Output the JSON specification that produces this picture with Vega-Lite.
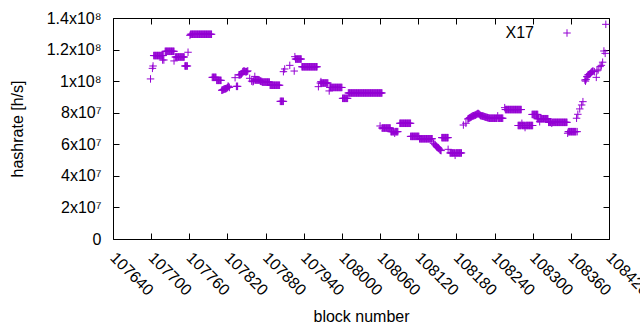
{
  "$schema": "https://vega.github.io/schema/vega-lite/v6.json",
  "width": 496,
  "height": 221,
  "autosize": {"type": "none"},
  "padding": {"left": 113, "top": 18, "right": 31, "bottom": 91},
  "background": "white",
  "config": {
    "view": {"stroke": "black", "strokeWidth": 1},
    "font": "Liberation Sans",
    "axis": {
      "grid": false,
      "domain": false,
      "tickColor": "black",
      "tickSize": -6,
      "labelColor": "black",
      "titleColor": "black",
      "labelFont": "Liberation Sans",
      "titleFont": "Liberation Sans",
      "labelFontSize": 16,
      "titleFontSize": 16,
      "titleFontWeight": "normal",
      "labelOverlap": false,
      "labelBound": false,
      "labelFlush": false
    }
  },
  "datasets": {
    "hash": [
      {"block": 107699, "hashrate": 1.014e8},
      {"block": 107702, "hashrate": 1.081e8},
      {"block": 107703, "hashrate": 1.096e8},
      {"block": 107704, "hashrate": 1.162e8},
      {"block": 107705, "hashrate": 1.162e8},
      {"block": 107706, "hashrate": 1.162e8},
      {"block": 107707, "hashrate": 1.162e8},
      {"block": 107708, "hashrate": 1.162e8},
      {"block": 107709, "hashrate": 1.162e8},
      {"block": 107710, "hashrate": 1.162e8},
      {"block": 107711, "hashrate": 1.162e8},
      {"block": 107712, "hashrate": 1.162e8},
      {"block": 107713, "hashrate": 1.162e8},
      {"block": 107714, "hashrate": 1.162e8},
      {"block": 107715, "hashrate": 1.162e8},
      {"block": 107716, "hashrate": 1.162e8},
      {"block": 107717, "hashrate": 1.162e8},
      {"block": 107718, "hashrate": 1.162e8},
      {"block": 107719, "hashrate": 1.162e8},
      {"block": 107718, "hashrate": 1.134e8},
      {"block": 107720, "hashrate": 1.134e8},
      {"block": 107722, "hashrate": 1.189e8},
      {"block": 107723, "hashrate": 1.189e8},
      {"block": 107724, "hashrate": 1.189e8},
      {"block": 107725, "hashrate": 1.189e8},
      {"block": 107726, "hashrate": 1.189e8},
      {"block": 107727, "hashrate": 1.189e8},
      {"block": 107728, "hashrate": 1.189e8},
      {"block": 107729, "hashrate": 1.189e8},
      {"block": 107730, "hashrate": 1.189e8},
      {"block": 107731, "hashrate": 1.189e8},
      {"block": 107732, "hashrate": 1.189e8},
      {"block": 107733, "hashrate": 1.189e8},
      {"block": 107734, "hashrate": 1.189e8},
      {"block": 107735, "hashrate": 1.189e8},
      {"block": 107736, "hashrate": 1.189e8},
      {"block": 107736, "hashrate": 1.128e8},
      {"block": 107738, "hashrate": 1.153e8},
      {"block": 107739, "hashrate": 1.153e8},
      {"block": 107740, "hashrate": 1.153e8},
      {"block": 107741, "hashrate": 1.153e8},
      {"block": 107742, "hashrate": 1.153e8},
      {"block": 107743, "hashrate": 1.153e8},
      {"block": 107744, "hashrate": 1.153e8},
      {"block": 107745, "hashrate": 1.153e8},
      {"block": 107746, "hashrate": 1.153e8},
      {"block": 107747, "hashrate": 1.153e8},
      {"block": 107748, "hashrate": 1.153e8},
      {"block": 107749, "hashrate": 1.153e8},
      {"block": 107750, "hashrate": 1.153e8},
      {"block": 107751, "hashrate": 1.153e8},
      {"block": 107752, "hashrate": 1.153e8},
      {"block": 107753, "hashrate": 1.096e8},
      {"block": 107754, "hashrate": 1.096e8},
      {"block": 107755, "hashrate": 1.096e8},
      {"block": 107756, "hashrate": 1.096e8},
      {"block": 107757, "hashrate": 1.096e8},
      {"block": 107758, "hashrate": 1.183e8},
      {"block": 107761, "hashrate": 1.29e8},
      {"block": 107762, "hashrate": 1.297e8},
      {"block": 107763, "hashrate": 1.297e8},
      {"block": 107764, "hashrate": 1.297e8},
      {"block": 107765, "hashrate": 1.297e8},
      {"block": 107766, "hashrate": 1.297e8},
      {"block": 107767, "hashrate": 1.297e8},
      {"block": 107768, "hashrate": 1.297e8},
      {"block": 107769, "hashrate": 1.297e8},
      {"block": 107770, "hashrate": 1.297e8},
      {"block": 107771, "hashrate": 1.297e8},
      {"block": 107772, "hashrate": 1.297e8},
      {"block": 107773, "hashrate": 1.297e8},
      {"block": 107774, "hashrate": 1.297e8},
      {"block": 107775, "hashrate": 1.297e8},
      {"block": 107776, "hashrate": 1.297e8},
      {"block": 107777, "hashrate": 1.297e8},
      {"block": 107778, "hashrate": 1.297e8},
      {"block": 107779, "hashrate": 1.297e8},
      {"block": 107780, "hashrate": 1.297e8},
      {"block": 107781, "hashrate": 1.297e8},
      {"block": 107782, "hashrate": 1.297e8},
      {"block": 107783, "hashrate": 1.297e8},
      {"block": 107784, "hashrate": 1.297e8},
      {"block": 107785, "hashrate": 1.297e8},
      {"block": 107786, "hashrate": 1.297e8},
      {"block": 107787, "hashrate": 1.297e8},
      {"block": 107788, "hashrate": 1.297e8},
      {"block": 107789, "hashrate": 1.297e8},
      {"block": 107790, "hashrate": 1.297e8},
      {"block": 107791, "hashrate": 1.297e8},
      {"block": 107792, "hashrate": 1.297e8},
      {"block": 107793, "hashrate": 1.297e8},
      {"block": 107794, "hashrate": 1.297e8},
      {"block": 107795, "hashrate": 1.297e8},
      {"block": 107796, "hashrate": 1.024e8},
      {"block": 107797, "hashrate": 1.024e8},
      {"block": 107798, "hashrate": 1.024e8},
      {"block": 107799, "hashrate": 1.024e8},
      {"block": 107800, "hashrate": 1.024e8},
      {"block": 107801, "hashrate": 1.024e8},
      {"block": 107802, "hashrate": 1.024e8},
      {"block": 107803, "hashrate": 1.005e8},
      {"block": 107804, "hashrate": 1.005e8},
      {"block": 107805, "hashrate": 1.005e8},
      {"block": 107806, "hashrate": 1.005e8},
      {"block": 107807, "hashrate": 1.005e8},
      {"block": 107808, "hashrate": 1.005e8},
      {"block": 107809, "hashrate": 1.005e8},
      {"block": 107810, "hashrate": 1.005e8},
      {"block": 107811, "hashrate": 9.42e7},
      {"block": 107812, "hashrate": 9.44e7},
      {"block": 107813, "hashrate": 9.45e7},
      {"block": 107814, "hashrate": 9.48e7},
      {"block": 107815, "hashrate": 9.5e7},
      {"block": 107816, "hashrate": 9.5e7},
      {"block": 107817, "hashrate": 9.52e7},
      {"block": 107818, "hashrate": 9.53e7},
      {"block": 107819, "hashrate": 9.55e7},
      {"block": 107820, "hashrate": 9.6e7},
      {"block": 107821, "hashrate": 9.69e7},
      {"block": 107822, "hashrate": 9.65e7},
      {"block": 107823, "hashrate": 9.6e7},
      {"block": 107832, "hashrate": 1.022e8},
      {"block": 107834, "hashrate": 9.67e7},
      {"block": 107835, "hashrate": 9.67e7},
      {"block": 107836, "hashrate": 9.67e7},
      {"block": 107838, "hashrate": 1.04e8},
      {"block": 107839, "hashrate": 1.04e8},
      {"block": 107840, "hashrate": 1.04e8},
      {"block": 107841, "hashrate": 1.042e8},
      {"block": 107842, "hashrate": 1.045e8},
      {"block": 107843, "hashrate": 1.05e8},
      {"block": 107844, "hashrate": 1.06e8},
      {"block": 107845, "hashrate": 1.062e8},
      {"block": 107846, "hashrate": 1.065e8},
      {"block": 107847, "hashrate": 1.062e8},
      {"block": 107848, "hashrate": 1.06e8},
      {"block": 107849, "hashrate": 1.06e8},
      {"block": 107850, "hashrate": 1.06e8},
      {"block": 107851, "hashrate": 1.062e8},
      {"block": 107852, "hashrate": 1.065e8},
      {"block": 107855, "hashrate": 1.018e8},
      {"block": 107858, "hashrate": 1.0e8},
      {"block": 107860, "hashrate": 9.96e7},
      {"block": 107861, "hashrate": 1.0e8},
      {"block": 107862, "hashrate": 1.007e8},
      {"block": 107863, "hashrate": 1.03e8},
      {"block": 107864, "hashrate": 1.007e8},
      {"block": 107865, "hashrate": 1.007e8},
      {"block": 107866, "hashrate": 1.007e8},
      {"block": 107867, "hashrate": 1.007e8},
      {"block": 107868, "hashrate": 1.007e8},
      {"block": 107869, "hashrate": 1.007e8},
      {"block": 107870, "hashrate": 1.007e8},
      {"block": 107871, "hashrate": 1.003e8},
      {"block": 107872, "hashrate": 1.0e8},
      {"block": 107873, "hashrate": 9.98e7},
      {"block": 107874, "hashrate": 9.98e7},
      {"block": 107875, "hashrate": 9.94e7},
      {"block": 107876, "hashrate": 9.94e7},
      {"block": 107877, "hashrate": 9.94e7},
      {"block": 107878, "hashrate": 9.94e7},
      {"block": 107879, "hashrate": 9.94e7},
      {"block": 107880, "hashrate": 9.94e7},
      {"block": 107881, "hashrate": 9.94e7},
      {"block": 107882, "hashrate": 9.94e7},
      {"block": 107883, "hashrate": 9.94e7},
      {"block": 107884, "hashrate": 9.94e7},
      {"block": 107885, "hashrate": 9.94e7},
      {"block": 107886, "hashrate": 9.94e7},
      {"block": 107887, "hashrate": 9.74e7},
      {"block": 107888, "hashrate": 9.74e7},
      {"block": 107889, "hashrate": 9.74e7},
      {"block": 107890, "hashrate": 9.74e7},
      {"block": 107891, "hashrate": 9.74e7},
      {"block": 107892, "hashrate": 9.74e7},
      {"block": 107893, "hashrate": 9.74e7},
      {"block": 107894, "hashrate": 9.74e7},
      {"block": 107895, "hashrate": 9.74e7},
      {"block": 107896, "hashrate": 9.74e7},
      {"block": 107897, "hashrate": 9.74e7},
      {"block": 107898, "hashrate": 9.74e7},
      {"block": 107899, "hashrate": 9.74e7},
      {"block": 107900, "hashrate": 9.74e7},
      {"block": 107901, "hashrate": 9.74e7},
      {"block": 107902, "hashrate": 9.74e7},
      {"block": 107903, "hashrate": 8.72e7},
      {"block": 107904, "hashrate": 8.72e7},
      {"block": 107905, "hashrate": 8.72e7},
      {"block": 107906, "hashrate": 8.72e7},
      {"block": 107907, "hashrate": 8.72e7},
      {"block": 107908, "hashrate": 8.72e7},
      {"block": 107908, "hashrate": 1.06e8},
      {"block": 107910, "hashrate": 1.077e8},
      {"block": 107918, "hashrate": 1.10e8},
      {"block": 107925, "hashrate": 1.064e8},
      {"block": 107926, "hashrate": 1.155e8},
      {"block": 107927, "hashrate": 1.14e8},
      {"block": 107928, "hashrate": 1.14e8},
      {"block": 107929, "hashrate": 1.14e8},
      {"block": 107930, "hashrate": 1.14e8},
      {"block": 107931, "hashrate": 1.14e8},
      {"block": 107932, "hashrate": 1.14e8},
      {"block": 107933, "hashrate": 1.14e8},
      {"block": 107934, "hashrate": 1.14e8},
      {"block": 107935, "hashrate": 1.14e8},
      {"block": 107936, "hashrate": 1.14e8},
      {"block": 107937, "hashrate": 1.091e8},
      {"block": 107938, "hashrate": 1.091e8},
      {"block": 107939, "hashrate": 1.091e8},
      {"block": 107940, "hashrate": 1.091e8},
      {"block": 107941, "hashrate": 1.091e8},
      {"block": 107942, "hashrate": 1.091e8},
      {"block": 107943, "hashrate": 1.091e8},
      {"block": 107944, "hashrate": 1.091e8},
      {"block": 107945, "hashrate": 1.091e8},
      {"block": 107946, "hashrate": 1.091e8},
      {"block": 107947, "hashrate": 1.091e8},
      {"block": 107948, "hashrate": 1.091e8},
      {"block": 107949, "hashrate": 1.091e8},
      {"block": 107950, "hashrate": 1.091e8},
      {"block": 107951, "hashrate": 1.091e8},
      {"block": 107952, "hashrate": 1.091e8},
      {"block": 107953, "hashrate": 1.091e8},
      {"block": 107954, "hashrate": 1.091e8},
      {"block": 107955, "hashrate": 1.091e8},
      {"block": 107956, "hashrate": 1.091e8},
      {"block": 107957, "hashrate": 1.091e8},
      {"block": 107958, "hashrate": 1.091e8},
      {"block": 107959, "hashrate": 1.091e8},
      {"block": 107960, "hashrate": 1.091e8},
      {"block": 107961, "hashrate": 1.091e8},
      {"block": 107963, "hashrate": 9.65e7},
      {"block": 107966, "hashrate": 9.88e7},
      {"block": 107967, "hashrate": 9.97e7},
      {"block": 107968, "hashrate": 9.88e7},
      {"block": 107969, "hashrate": 9.88e7},
      {"block": 107970, "hashrate": 9.88e7},
      {"block": 107971, "hashrate": 9.88e7},
      {"block": 107972, "hashrate": 9.88e7},
      {"block": 107973, "hashrate": 9.88e7},
      {"block": 107974, "hashrate": 9.88e7},
      {"block": 107975, "hashrate": 9.88e7},
      {"block": 107976, "hashrate": 9.88e7},
      {"block": 107977, "hashrate": 9.88e7},
      {"block": 107978, "hashrate": 9.88e7},
      {"block": 107980, "hashrate": 9.38e7},
      {"block": 107981, "hashrate": 9.6e7},
      {"block": 107982, "hashrate": 9.6e7},
      {"block": 107983, "hashrate": 9.6e7},
      {"block": 107984, "hashrate": 9.6e7},
      {"block": 107985, "hashrate": 9.6e7},
      {"block": 107986, "hashrate": 9.6e7},
      {"block": 107987, "hashrate": 9.6e7},
      {"block": 107988, "hashrate": 9.6e7},
      {"block": 107989, "hashrate": 9.6e7},
      {"block": 107990, "hashrate": 9.6e7},
      {"block": 107991, "hashrate": 9.6e7},
      {"block": 107992, "hashrate": 9.6e7},
      {"block": 107993, "hashrate": 9.6e7},
      {"block": 107994, "hashrate": 9.6e7},
      {"block": 107995, "hashrate": 9.6e7},
      {"block": 107996, "hashrate": 9.6e7},
      {"block": 107997, "hashrate": 9.6e7},
      {"block": 107998, "hashrate": 9.6e7},
      {"block": 107999, "hashrate": 9.6e7},
      {"block": 108000, "hashrate": 9.6e7},
      {"block": 108001, "hashrate": 8.91e7},
      {"block": 108002, "hashrate": 8.91e7},
      {"block": 108003, "hashrate": 8.91e7},
      {"block": 108004, "hashrate": 8.91e7},
      {"block": 108005, "hashrate": 8.91e7},
      {"block": 108006, "hashrate": 8.91e7},
      {"block": 108007, "hashrate": 8.91e7},
      {"block": 108008, "hashrate": 8.91e7},
      {"block": 108009, "hashrate": 8.91e7},
      {"block": 108010, "hashrate": 9.25e7},
      {"block": 108011, "hashrate": 9.25e7},
      {"block": 108012, "hashrate": 9.25e7},
      {"block": 108013, "hashrate": 9.25e7},
      {"block": 108014, "hashrate": 9.25e7},
      {"block": 108015, "hashrate": 9.25e7},
      {"block": 108016, "hashrate": 9.25e7},
      {"block": 108017, "hashrate": 9.25e7},
      {"block": 108018, "hashrate": 9.25e7},
      {"block": 108019, "hashrate": 9.25e7},
      {"block": 108020, "hashrate": 9.25e7},
      {"block": 108021, "hashrate": 9.25e7},
      {"block": 108022, "hashrate": 9.25e7},
      {"block": 108023, "hashrate": 9.25e7},
      {"block": 108024, "hashrate": 9.25e7},
      {"block": 108025, "hashrate": 9.25e7},
      {"block": 108026, "hashrate": 9.25e7},
      {"block": 108027, "hashrate": 9.25e7},
      {"block": 108028, "hashrate": 9.25e7},
      {"block": 108029, "hashrate": 9.25e7},
      {"block": 108030, "hashrate": 9.25e7},
      {"block": 108031, "hashrate": 9.25e7},
      {"block": 108032, "hashrate": 9.25e7},
      {"block": 108033, "hashrate": 9.25e7},
      {"block": 108034, "hashrate": 9.25e7},
      {"block": 108035, "hashrate": 9.25e7},
      {"block": 108036, "hashrate": 9.25e7},
      {"block": 108037, "hashrate": 9.25e7},
      {"block": 108038, "hashrate": 9.25e7},
      {"block": 108039, "hashrate": 9.25e7},
      {"block": 108040, "hashrate": 9.25e7},
      {"block": 108041, "hashrate": 9.25e7},
      {"block": 108042, "hashrate": 9.25e7},
      {"block": 108043, "hashrate": 9.25e7},
      {"block": 108044, "hashrate": 9.25e7},
      {"block": 108045, "hashrate": 9.25e7},
      {"block": 108046, "hashrate": 9.25e7},
      {"block": 108047, "hashrate": 9.25e7},
      {"block": 108048, "hashrate": 9.25e7},
      {"block": 108049, "hashrate": 9.25e7},
      {"block": 108050, "hashrate": 9.25e7},
      {"block": 108051, "hashrate": 9.25e7},
      {"block": 108052, "hashrate": 9.25e7},
      {"block": 108053, "hashrate": 9.25e7},
      {"block": 108054, "hashrate": 9.25e7},
      {"block": 108055, "hashrate": 9.25e7},
      {"block": 108056, "hashrate": 9.25e7},
      {"block": 108057, "hashrate": 9.25e7},
      {"block": 108058, "hashrate": 9.25e7},
      {"block": 108059, "hashrate": 9.25e7},
      {"block": 108060, "hashrate": 9.25e7},
      {"block": 108061, "hashrate": 9.25e7},
      {"block": 108062, "hashrate": 9.25e7},
      {"block": 108063, "hashrate": 9.25e7},
      {"block": 108060, "hashrate": 7.16e7},
      {"block": 108063, "hashrate": 7.03e7},
      {"block": 108064, "hashrate": 7.03e7},
      {"block": 108065, "hashrate": 7.03e7},
      {"block": 108066, "hashrate": 7.03e7},
      {"block": 108067, "hashrate": 7.03e7},
      {"block": 108068, "hashrate": 7.03e7},
      {"block": 108069, "hashrate": 7.03e7},
      {"block": 108070, "hashrate": 7.03e7},
      {"block": 108071, "hashrate": 7.03e7},
      {"block": 108072, "hashrate": 7.03e7},
      {"block": 108073, "hashrate": 7.03e7},
      {"block": 108074, "hashrate": 7.03e7},
      {"block": 108075, "hashrate": 7.03e7},
      {"block": 108076, "hashrate": 7.03e7},
      {"block": 108077, "hashrate": 6.8e7},
      {"block": 108078, "hashrate": 6.8e7},
      {"block": 108079, "hashrate": 6.8e7},
      {"block": 108080, "hashrate": 6.8e7},
      {"block": 108081, "hashrate": 6.8e7},
      {"block": 108082, "hashrate": 6.8e7},
      {"block": 108083, "hashrate": 6.7e7},
      {"block": 108084, "hashrate": 6.8e7},
      {"block": 108085, "hashrate": 6.8e7},
      {"block": 108086, "hashrate": 6.8e7},
      {"block": 108087, "hashrate": 6.8e7},
      {"block": 108088, "hashrate": 6.8e7},
      {"block": 108091, "hashrate": 7.33e7},
      {"block": 108092, "hashrate": 7.33e7},
      {"block": 108093, "hashrate": 7.33e7},
      {"block": 108094, "hashrate": 7.33e7},
      {"block": 108095, "hashrate": 7.33e7},
      {"block": 108096, "hashrate": 7.33e7},
      {"block": 108097, "hashrate": 7.33e7},
      {"block": 108098, "hashrate": 7.33e7},
      {"block": 108099, "hashrate": 7.33e7},
      {"block": 108100, "hashrate": 7.33e7},
      {"block": 108101, "hashrate": 7.33e7},
      {"block": 108102, "hashrate": 7.33e7},
      {"block": 108103, "hashrate": 7.33e7},
      {"block": 108104, "hashrate": 7.33e7},
      {"block": 108105, "hashrate": 7.33e7},
      {"block": 108106, "hashrate": 7.33e7},
      {"block": 108107, "hashrate": 7.33e7},
      {"block": 108108, "hashrate": 7.33e7},
      {"block": 108108, "hashrate": 6.5e7},
      {"block": 108109, "hashrate": 6.5e7},
      {"block": 108110, "hashrate": 6.5e7},
      {"block": 108111, "hashrate": 6.5e7},
      {"block": 108112, "hashrate": 6.5e7},
      {"block": 108113, "hashrate": 6.5e7},
      {"block": 108114, "hashrate": 6.5e7},
      {"block": 108115, "hashrate": 6.5e7},
      {"block": 108116, "hashrate": 6.5e7},
      {"block": 108117, "hashrate": 6.5e7},
      {"block": 108118, "hashrate": 6.5e7},
      {"block": 108119, "hashrate": 6.5e7},
      {"block": 108120, "hashrate": 6.5e7},
      {"block": 108121, "hashrate": 6.5e7},
      {"block": 108122, "hashrate": 6.35e7},
      {"block": 108123, "hashrate": 6.35e7},
      {"block": 108124, "hashrate": 6.35e7},
      {"block": 108125, "hashrate": 6.35e7},
      {"block": 108126, "hashrate": 6.35e7},
      {"block": 108127, "hashrate": 6.35e7},
      {"block": 108128, "hashrate": 6.35e7},
      {"block": 108129, "hashrate": 6.35e7},
      {"block": 108130, "hashrate": 6.35e7},
      {"block": 108131, "hashrate": 6.35e7},
      {"block": 108132, "hashrate": 6.35e7},
      {"block": 108133, "hashrate": 6.35e7},
      {"block": 108134, "hashrate": 6.35e7},
      {"block": 108135, "hashrate": 6.35e7},
      {"block": 108136, "hashrate": 6.35e7},
      {"block": 108137, "hashrate": 6.35e7},
      {"block": 108138, "hashrate": 6.35e7},
      {"block": 108139, "hashrate": 6.35e7},
      {"block": 108140, "hashrate": 6.35e7},
      {"block": 108141, "hashrate": 6.35e7},
      {"block": 108142, "hashrate": 6.35e7},
      {"block": 108144, "hashrate": 6.06e7},
      {"block": 108146, "hashrate": 6.0e7},
      {"block": 108147, "hashrate": 5.95e7},
      {"block": 108148, "hashrate": 5.9e7},
      {"block": 108149, "hashrate": 5.85e7},
      {"block": 108150, "hashrate": 5.8e7},
      {"block": 108151, "hashrate": 5.78e7},
      {"block": 108152, "hashrate": 5.75e7},
      {"block": 108153, "hashrate": 5.7e7},
      {"block": 108154, "hashrate": 5.65e7},
      {"block": 108155, "hashrate": 5.62e7},
      {"block": 108156, "hashrate": 5.6e7},
      {"block": 108157, "hashrate": 6.42e7},
      {"block": 108158, "hashrate": 6.42e7},
      {"block": 108159, "hashrate": 6.42e7},
      {"block": 108160, "hashrate": 6.42e7},
      {"block": 108161, "hashrate": 6.42e7},
      {"block": 108162, "hashrate": 6.42e7},
      {"block": 108163, "hashrate": 6.42e7},
      {"block": 108164, "hashrate": 6.42e7},
      {"block": 108165, "hashrate": 6.42e7},
      {"block": 108166, "hashrate": 6.42e7},
      {"block": 108167, "hashrate": 6.42e7},
      {"block": 108167, "hashrate": 5.68e7},
      {"block": 108170, "hashrate": 5.45e7},
      {"block": 108171, "hashrate": 5.45e7},
      {"block": 108172, "hashrate": 5.45e7},
      {"block": 108173, "hashrate": 5.45e7},
      {"block": 108174, "hashrate": 5.45e7},
      {"block": 108175, "hashrate": 5.45e7},
      {"block": 108176, "hashrate": 5.45e7},
      {"block": 108177, "hashrate": 5.45e7},
      {"block": 108178, "hashrate": 5.3e7},
      {"block": 108179, "hashrate": 5.45e7},
      {"block": 108180, "hashrate": 5.45e7},
      {"block": 108181, "hashrate": 5.45e7},
      {"block": 108182, "hashrate": 5.45e7},
      {"block": 108183, "hashrate": 5.45e7},
      {"block": 108184, "hashrate": 5.45e7},
      {"block": 108185, "hashrate": 5.45e7},
      {"block": 108186, "hashrate": 5.45e7},
      {"block": 108187, "hashrate": 5.45e7},
      {"block": 108188, "hashrate": 5.45e7},
      {"block": 108191, "hashrate": 7.22e7},
      {"block": 108195, "hashrate": 7.33e7},
      {"block": 108198, "hashrate": 7.6e7},
      {"block": 108199, "hashrate": 7.62e7},
      {"block": 108200, "hashrate": 7.65e7},
      {"block": 108201, "hashrate": 7.68e7},
      {"block": 108202, "hashrate": 7.7e7},
      {"block": 108203, "hashrate": 7.72e7},
      {"block": 108204, "hashrate": 7.75e7},
      {"block": 108205, "hashrate": 7.78e7},
      {"block": 108206, "hashrate": 7.8e7},
      {"block": 108207, "hashrate": 7.81e7},
      {"block": 108208, "hashrate": 7.82e7},
      {"block": 108209, "hashrate": 7.84e7},
      {"block": 108210, "hashrate": 7.85e7},
      {"block": 108211, "hashrate": 7.88e7},
      {"block": 108212, "hashrate": 7.9e7},
      {"block": 108213, "hashrate": 7.93e7},
      {"block": 108214, "hashrate": 7.96e7},
      {"block": 108215, "hashrate": 7.93e7},
      {"block": 108216, "hashrate": 7.9e7},
      {"block": 108217, "hashrate": 7.86e7},
      {"block": 108218, "hashrate": 7.82e7},
      {"block": 108219, "hashrate": 7.81e7},
      {"block": 108220, "hashrate": 7.8e7},
      {"block": 108221, "hashrate": 7.79e7},
      {"block": 108222, "hashrate": 7.78e7},
      {"block": 108223, "hashrate": 7.77e7},
      {"block": 108224, "hashrate": 7.75e7},
      {"block": 108225, "hashrate": 7.74e7},
      {"block": 108226, "hashrate": 7.72e7},
      {"block": 108227, "hashrate": 7.71e7},
      {"block": 108228, "hashrate": 7.7e7},
      {"block": 108229, "hashrate": 7.69e7},
      {"block": 108230, "hashrate": 7.68e7},
      {"block": 108231, "hashrate": 7.66e7},
      {"block": 108232, "hashrate": 7.65e7},
      {"block": 108233, "hashrate": 7.65e7},
      {"block": 108234, "hashrate": 7.65e7},
      {"block": 108235, "hashrate": 7.65e7},
      {"block": 108236, "hashrate": 7.65e7},
      {"block": 108237, "hashrate": 7.65e7},
      {"block": 108238, "hashrate": 7.65e7},
      {"block": 108239, "hashrate": 7.65e7},
      {"block": 108240, "hashrate": 7.65e7},
      {"block": 108241, "hashrate": 7.65e7},
      {"block": 108242, "hashrate": 7.65e7},
      {"block": 108243, "hashrate": 7.65e7},
      {"block": 108244, "hashrate": 7.65e7},
      {"block": 108245, "hashrate": 7.8e7},
      {"block": 108246, "hashrate": 7.65e7},
      {"block": 108247, "hashrate": 7.65e7},
      {"block": 108248, "hashrate": 7.65e7},
      {"block": 108249, "hashrate": 7.65e7},
      {"block": 108250, "hashrate": 7.65e7},
      {"block": 108251, "hashrate": 7.65e7},
      {"block": 108252, "hashrate": 7.65e7},
      {"block": 108253, "hashrate": 7.65e7},
      {"block": 108256, "hashrate": 8.32e7},
      {"block": 108257, "hashrate": 8.2e7},
      {"block": 108258, "hashrate": 8.2e7},
      {"block": 108259, "hashrate": 8.2e7},
      {"block": 108260, "hashrate": 8.2e7},
      {"block": 108261, "hashrate": 8.2e7},
      {"block": 108262, "hashrate": 8.2e7},
      {"block": 108263, "hashrate": 8.2e7},
      {"block": 108264, "hashrate": 8.2e7},
      {"block": 108265, "hashrate": 8.2e7},
      {"block": 108266, "hashrate": 8.2e7},
      {"block": 108267, "hashrate": 8.2e7},
      {"block": 108268, "hashrate": 8.2e7},
      {"block": 108269, "hashrate": 8.2e7},
      {"block": 108270, "hashrate": 8.2e7},
      {"block": 108271, "hashrate": 8.2e7},
      {"block": 108272, "hashrate": 8.2e7},
      {"block": 108273, "hashrate": 8.2e7},
      {"block": 108274, "hashrate": 8.2e7},
      {"block": 108275, "hashrate": 8.2e7},
      {"block": 108276, "hashrate": 8.2e7},
      {"block": 108277, "hashrate": 8.2e7},
      {"block": 108278, "hashrate": 8.2e7},
      {"block": 108279, "hashrate": 8.2e7},
      {"block": 108280, "hashrate": 8.2e7},
      {"block": 108281, "hashrate": 8.2e7},
      {"block": 108282, "hashrate": 8.2e7},
      {"block": 108277, "hashrate": 7.19e7},
      {"block": 108278, "hashrate": 7.19e7},
      {"block": 108279, "hashrate": 7.19e7},
      {"block": 108280, "hashrate": 7.19e7},
      {"block": 108281, "hashrate": 7.19e7},
      {"block": 108282, "hashrate": 7.19e7},
      {"block": 108283, "hashrate": 7.33e7},
      {"block": 108284, "hashrate": 7.19e7},
      {"block": 108285, "hashrate": 7.19e7},
      {"block": 108286, "hashrate": 7.19e7},
      {"block": 108287, "hashrate": 7.19e7},
      {"block": 108288, "hashrate": 7.06e7},
      {"block": 108289, "hashrate": 7.19e7},
      {"block": 108290, "hashrate": 7.19e7},
      {"block": 108291, "hashrate": 7.19e7},
      {"block": 108292, "hashrate": 7.19e7},
      {"block": 108293, "hashrate": 7.19e7},
      {"block": 108294, "hashrate": 7.19e7},
      {"block": 108295, "hashrate": 7.19e7},
      {"block": 108296, "hashrate": 7.19e7},
      {"block": 108297, "hashrate": 7.19e7},
      {"block": 108298, "hashrate": 7.19e7},
      {"block": 108299, "hashrate": 7.19e7},
      {"block": 108300, "hashrate": 7.19e7},
      {"block": 108299, "hashrate": 7.89e7},
      {"block": 108300, "hashrate": 7.89e7},
      {"block": 108301, "hashrate": 7.89e7},
      {"block": 108302, "hashrate": 7.89e7},
      {"block": 108303, "hashrate": 7.89e7},
      {"block": 108304, "hashrate": 7.89e7},
      {"block": 108305, "hashrate": 7.89e7},
      {"block": 108306, "hashrate": 7.89e7},
      {"block": 108307, "hashrate": 7.89e7},
      {"block": 108308, "hashrate": 7.89e7},
      {"block": 108307, "hashrate": 7.62e7},
      {"block": 108308, "hashrate": 7.62e7},
      {"block": 108309, "hashrate": 7.62e7},
      {"block": 108310, "hashrate": 7.62e7},
      {"block": 108311, "hashrate": 7.43e7},
      {"block": 108312, "hashrate": 7.62e7},
      {"block": 108313, "hashrate": 7.62e7},
      {"block": 108314, "hashrate": 7.62e7},
      {"block": 108315, "hashrate": 7.62e7},
      {"block": 108316, "hashrate": 7.62e7},
      {"block": 108317, "hashrate": 7.62e7},
      {"block": 108318, "hashrate": 7.62e7},
      {"block": 108319, "hashrate": 7.62e7},
      {"block": 108320, "hashrate": 7.62e7},
      {"block": 108321, "hashrate": 7.62e7},
      {"block": 108322, "hashrate": 7.62e7},
      {"block": 108323, "hashrate": 7.62e7},
      {"block": 108324, "hashrate": 7.62e7},
      {"block": 108325, "hashrate": 7.39e7},
      {"block": 108326, "hashrate": 7.39e7},
      {"block": 108327, "hashrate": 7.39e7},
      {"block": 108328, "hashrate": 7.39e7},
      {"block": 108329, "hashrate": 7.39e7},
      {"block": 108330, "hashrate": 7.33e7},
      {"block": 108331, "hashrate": 7.39e7},
      {"block": 108332, "hashrate": 7.39e7},
      {"block": 108333, "hashrate": 7.39e7},
      {"block": 108334, "hashrate": 7.39e7},
      {"block": 108335, "hashrate": 7.39e7},
      {"block": 108336, "hashrate": 7.39e7},
      {"block": 108337, "hashrate": 7.39e7},
      {"block": 108338, "hashrate": 7.39e7},
      {"block": 108339, "hashrate": 7.39e7},
      {"block": 108340, "hashrate": 7.39e7},
      {"block": 108341, "hashrate": 7.39e7},
      {"block": 108342, "hashrate": 7.39e7},
      {"block": 108343, "hashrate": 7.39e7},
      {"block": 108344, "hashrate": 7.39e7},
      {"block": 108345, "hashrate": 7.39e7},
      {"block": 108346, "hashrate": 7.39e7},
      {"block": 108347, "hashrate": 7.39e7},
      {"block": 108348, "hashrate": 7.39e7},
      {"block": 108349, "hashrate": 7.39e7},
      {"block": 108350, "hashrate": 7.39e7},
      {"block": 108351, "hashrate": 7.39e7},
      {"block": 108352, "hashrate": 7.39e7},
      {"block": 108353, "hashrate": 7.39e7},
      {"block": 108354, "hashrate": 7.39e7},
      {"block": 108355, "hashrate": 6.7e7},
      {"block": 108356, "hashrate": 6.8e7},
      {"block": 108357, "hashrate": 6.8e7},
      {"block": 108358, "hashrate": 6.8e7},
      {"block": 108359, "hashrate": 6.8e7},
      {"block": 108360, "hashrate": 6.8e7},
      {"block": 108361, "hashrate": 6.8e7},
      {"block": 108362, "hashrate": 6.8e7},
      {"block": 108363, "hashrate": 6.8e7},
      {"block": 108364, "hashrate": 6.8e7},
      {"block": 108365, "hashrate": 6.8e7},
      {"block": 108366, "hashrate": 6.8e7},
      {"block": 108367, "hashrate": 6.8e7},
      {"block": 108368, "hashrate": 6.8e7},
      {"block": 108369, "hashrate": 7.65e7},
      {"block": 108370, "hashrate": 6.8e7},
      {"block": 108371, "hashrate": 7.9e7},
      {"block": 108374, "hashrate": 8.24e7},
      {"block": 108377, "hashrate": 8.49e7},
      {"block": 108379, "hashrate": 8.7e7},
      {"block": 108382, "hashrate": 1.007e8},
      {"block": 108383, "hashrate": 1.0e8},
      {"block": 108384, "hashrate": 1.01e8},
      {"block": 108385, "hashrate": 1.028e8},
      {"block": 108386, "hashrate": 1.03e8},
      {"block": 108387, "hashrate": 1.04e8},
      {"block": 108388, "hashrate": 1.04e8},
      {"block": 108389, "hashrate": 1.043e8},
      {"block": 108390, "hashrate": 1.045e8},
      {"block": 108391, "hashrate": 1.05e8},
      {"block": 108392, "hashrate": 1.055e8},
      {"block": 108393, "hashrate": 1.06e8},
      {"block": 108394, "hashrate": 1.062e8},
      {"block": 108395, "hashrate": 1.064e8},
      {"block": 108397, "hashrate": 1.06e8},
      {"block": 108400, "hashrate": 1.024e8},
      {"block": 108401, "hashrate": 1.065e8},
      {"block": 108403, "hashrate": 1.071e8},
      {"block": 108406, "hashrate": 1.092e8},
      {"block": 108408, "hashrate": 1.1e8},
      {"block": 108410, "hashrate": 1.12e8},
      {"block": 108412, "hashrate": 1.191e8},
      {"block": 108414, "hashrate": 1.176e8},
      {"block": 108415, "hashrate": 1.36e8}
    ],
    "frame": [
      {"block": 107640, "hashrate": 0}
    ]
  },
  "layer": [
    {
      "data": {"name": "hash"},
      "mark": {
        "type": "point",
        "shape": "M-1,0H1M0,-1V1",
        "filled": false,
        "strokeWidth": 1,
        "size": 56,
        "opacity": 1
      },
      "encoding": {
        "x": {
          "field": "block",
          "type": "quantitative",
          "scale": {"domain": [107640, 108420], "nice": false, "zero": false},
          "axis": {
            "orient": "bottom",
            "values": [107640, 107700, 107760, 107820, 107880, 107940, 108000, 108060, 108120, 108180, 108240, 108300, 108360, 108420],
            "format": "d",
            "labelAngle": 45,
            "labelAlign": "left",
            "labelBaseline": "top",
            "labelPadding": 16,
            "labelOffset": 5,
            "title": "block number",
            "titlePadding": 10
          }
        },
        "y": {
          "field": "hashrate",
          "type": "quantitative",
          "scale": {"domain": [0, 140000000], "nice": false},
          "axis": {
            "orient": "left",
            "values": [0, 20000000, 40000000, 60000000, 80000000, 100000000, 120000000, 140000000],
            "labelExpr": "datum.value == 0 ? '0' : (datum.value >= 99999999 ? format(datum.value / 100000000, '.2~') + 'x10⁸' : format(datum.value / 10000000, '.2~') + 'x10⁷')",
            "labelPadding": 18,
            "title": "hashrate [h/s]",
            "titlePadding": 21
          }
        },
        "color": {
          "datum": "X17",
          "scale": {"range": ["#9400d3"]},
          "legend": {
            "title": null,
            "orient": "none",
            "legendX": 446,
            "legendY": 7,
            "symbolType": "M-1,0H1M0,-1V1",
            "symbolSize": 56,
            "symbolStrokeWidth": 1,
            "symbolOffset": 0,
            "labelOffset": -41,
            "labelAlign": "right",
            "labelFontSize": 16,
            "labelFont": "Liberation Sans",
            "labelColor": "black",
            "padding": 0
          }
        }
      }
    },
    {
      "data": {"name": "frame"},
      "mark": {"type": "point", "opacity": 0},
      "encoding": {
        "x": {
          "field": "block",
          "type": "quantitative",
          "scale": {"domain": [107640, 108420], "nice": false, "zero": false},
          "axis": {
            "orient": "top",
            "values": [107640, 107700, 107760, 107820, 107880, 107940, 108000, 108060, 108120, 108180, 108240, 108300, 108360, 108420],
            "labels": false,
            "title": null
          }
        },
        "y": {
          "field": "hashrate",
          "type": "quantitative",
          "scale": {"domain": [0, 140000000], "nice": false},
          "axis": {
            "orient": "right",
            "values": [0, 20000000, 40000000, 60000000, 80000000, 100000000, 120000000, 140000000],
            "labels": false,
            "title": null
          }
        }
      }
    }
  ],
  "resolve": {"axis": {"x": "independent", "y": "independent"}}
}
